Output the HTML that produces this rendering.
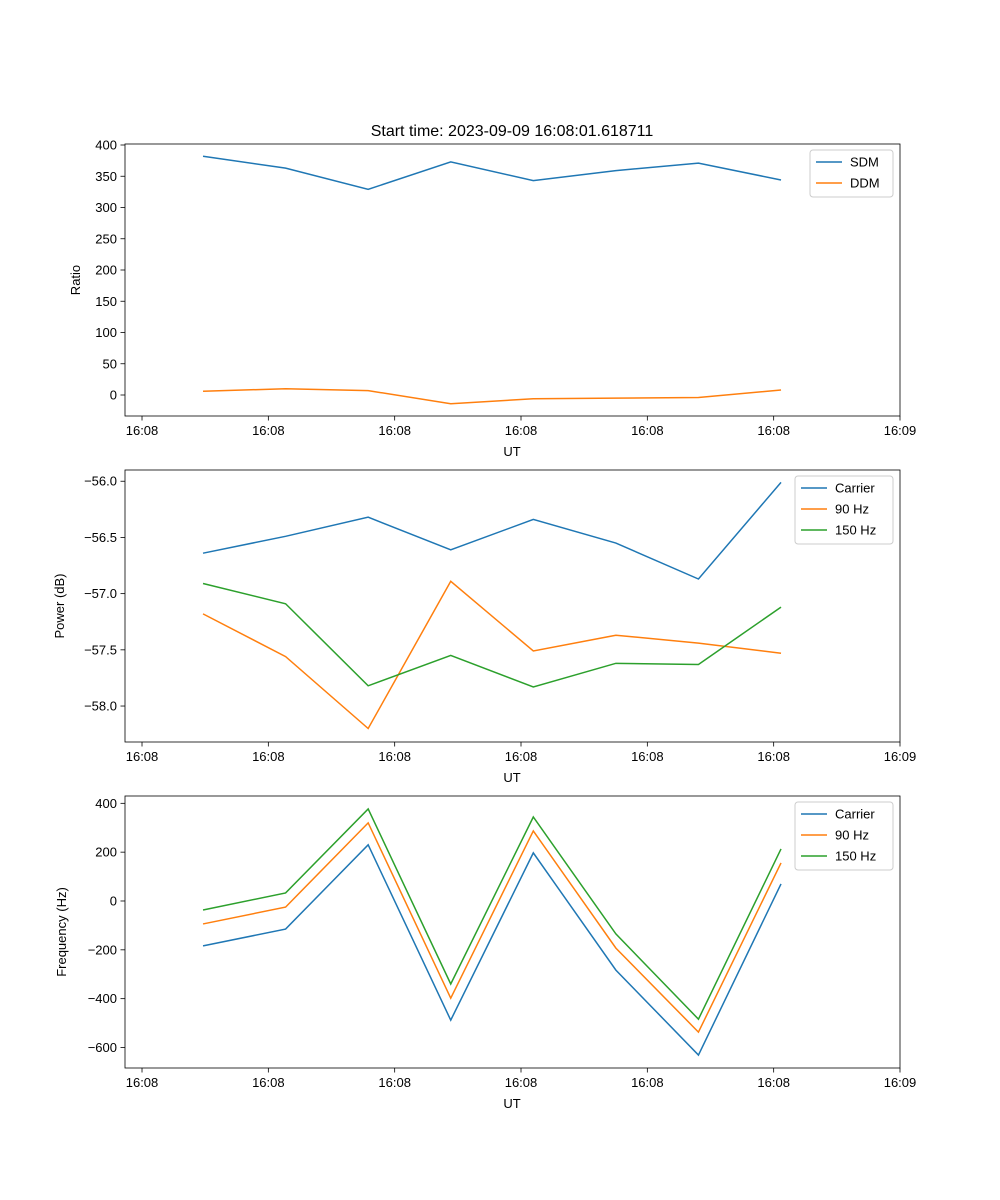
<!DOCTYPE html>
<html><head><meta charset="utf-8"><style>
html,body{margin:0;padding:0;background:#fff}
svg{display:block;font-family:"Liberation Sans","DejaVu Sans",sans-serif}
</style></head><body>
<svg id="fig" width="1000" height="1200" viewBox="0 0 1000 1200">
<text x="512" y="136" font-size="16" text-anchor="middle">Start time: 2023-09-09 16:08:01.618711</text>
</svg>
<script>
const sampleIdx = [0,1,2,3,4,5,6,7];
const tickPos = [-0.739,0.791,2.321,3.851,5.381,6.911,8.441];
const tickLabels = ["16:08","16:08","16:08","16:08","16:08","16:08","16:09"];
const sdm = [382,363,329,373,343,359,371,344];
const ddm = [6,10,7,-14,-6,-5,-4,8];
const pwrCarrier = [-56.64,-56.49,-56.32,-56.61,-56.34,-56.55,-56.87,-56.01];
const pwr90 = [-57.18,-57.56,-58.20,-56.89,-57.51,-57.37,-57.44,-57.53];
const pwr150 = [-56.91,-57.09,-57.82,-57.55,-57.83,-57.62,-57.63,-57.12];
const frqCarrier = [-184,-115,230,-488,197,-283,-631,70];
const frq90 = [-94,-25,320,-398,287,-193,-537,156];
const frq150 = [-37,33,377,-340,344,-135,-484,213];
const ticks1 = [0,50,100,150,200,250,300,350,400];
const ticks2 = [-58.0,-57.5,-57.0,-56.5,-56.0];
const ticks3 = [-600,-400,-200,0,200,400];

const NS="http://www.w3.org/2000/svg";
const svg=document.getElementById('fig');
const C=["#1f77b4","#ff7f0e","#2ca02c"];
const L=125,R=900,XMIN=-0.945,XMAX=8.441;
function xs(v){return L+(v-XMIN)/(XMAX-XMIN)*(R-L);}
function mk(tag,attrs,parent){const e=document.createElementNS(NS,tag);for(const k in attrs)e.setAttribute(k,attrs[k]);(parent||svg).appendChild(e);return e;}

function panel(name,top,bot,ymin,ymax,yt,fmt,ylabel,series,names,leg){
  const g=mk('g',{});
  
  
  const ys=v=>bot-(v-ymin)/(ymax-ymin)*(bot-top);
  series.forEach((s,k)=>{
    const p=mk('polyline',{points:s.map((v,i)=>xs(sampleIdx[i])+','+ys(v)).join(' '),fill:'none',stroke:C[k],'stroke-width':1.5},g);
    
    
  });
  const fr=mk('rect',{x:L,y:top,width:R-L,height:bot-top,fill:'none',stroke:'#000','stroke-width':0.8},g);
  
  
  tickPos.forEach((t,i)=>{
    const x=xs(t);
    mk('line',{x1:x,x2:x,y1:bot,y2:bot+4.5,stroke:'#000','stroke-width':0.8},g);
    const tx=mk('text',{x:x,y:bot+19,'font-size':13,'text-anchor':'middle'},g);
    tx.textContent=tickLabels[i];
    
    
  });
  yt.forEach(v=>{
    const y=ys(v);
    mk('line',{x1:L-4.5,x2:L,y1:y,y2:y,stroke:'#000','stroke-width':0.8},g);
    const tx=mk('text',{x:L-8,y:y+4.5,'font-size':13,'text-anchor':'end'},g);
    tx.textContent=fmt(v);
    
    
  });
  const xl=mk('text',{x:512,y:bot+40,'font-size':13,'text-anchor':'middle'},g);
  xl.textContent='UT';
  
  
  const lx=leg.lx, cy=(top+bot)/2;
  const yl=mk('text',{x:lx,y:cy,'font-size':13,'text-anchor':'middle',transform:`rotate(-90 ${lx} ${cy})`},g);
  yl.textContent=ylabel;
  
  
  const lg=mk('g',{},g);
  
  
  mk('rect',{x:leg.x,y:top+6,width:893-leg.x,height:names.length*21+5,rx:3,fill:'#fff','fill-opacity':0.8,stroke:'#ccc'},lg);
  names.forEach((n,k)=>{
    const y=top+18+k*21;
    mk('line',{x1:leg.x+6,x2:leg.x+32,y1:y,y2:y,stroke:C[k],'stroke-width':1.5},lg);
    const t=mk('text',{x:leg.x+40,y:y+4.5,'font-size':13},lg);
    t.textContent=n;
    
    
  });
}
const m=v=>(v<0?'\u2212':'')+Math.abs(v);
panel('ratio',144,416,-33.6,401.6,ticks1,v=>m(v),'Ratio',[sdm,ddm],['SDM','DDM'],{x:810,lx:80});
panel('power',470,742,-58.32,-55.90,ticks2,v=>m(v.toFixed(1)*1).replace(/^(\u2212?\d+)$/,'$1.0'),'Power (dB)',[pwrCarrier,pwr90,pwr150],['Carrier','90 Hz','150 Hz'],{x:795,lx:64});
panel('frequency',796,1068,-684,430,ticks3,v=>m(v),'Frequency (Hz)',[frqCarrier,frq90,frq150],['Carrier','90 Hz','150 Hz'],{x:795,lx:66});
</script>
</body></html>
